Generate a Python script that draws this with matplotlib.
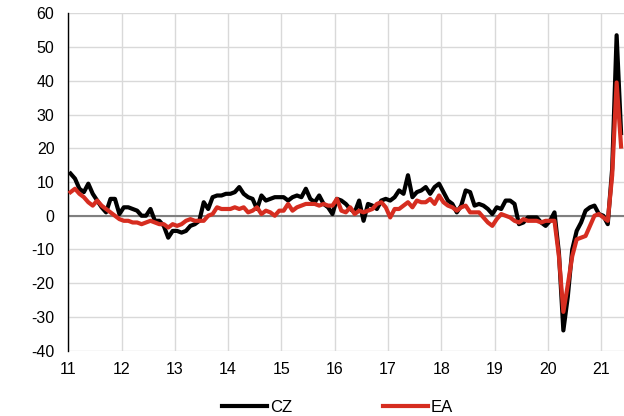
import matplotlib.pyplot as plt
import numpy as np

plt.rcParams['font.family'] = ['Liberation Sans', 'DejaVu Sans']
plt.rcParams['axes.unicode_minus'] = False

# monthly y/y values, Jan 2011 - May 2021
cz = [12.5, 11, 8, 7, 9.5, 6.5, 4.5, 2.5, 1, 5, 5, 0.5,
      2.5, 2.5, 2, 1.5, 0, 0, 2, -1.5, -1.5, -3, -6.5, -4.5,
      -4.5, -5, -4.5, -3, -2.5, -1.5, 4, 2, 5.5, 6, 6, 6.5,
      6.5, 7, 8.5, 6.5, 5.5, 5, 2, 6, 4.5, 5, 5.5, 5.5,
      5.5, 4.5, 5.5, 6, 5.5, 8, 5, 4, 6, 3.5, 2.5, 0.5,
      5, 4.5, 3.5, 2, 1, 4.5, -1.5, 3.5, 3, 2, 4.5, 5,
      4.5, 5.5, 7.5, 6.5, 12, 5.5, 7, 7.5, 8.5, 6.5, 8.5, 9.5,
      7, 4.5, 3.5, 1, 3, 7.5, 7, 3, 3.5, 3, 2, 0.5,
      2.5, 2, 4.5, 4.5, 3.5, -2.5, -2, -0.5, -0.5, -0.5, -2, -3,
      -1.5, 1, -11, -34, -24, -10, -4.5, -2, 1.5, 2.5, 3, 0.5,
      0, -2.5, 14, 53.5, 24.5]
ea = [7, 8, 6.5, 5.5, 4, 3, 4.5, 3, 2, 1, 0, -1,
      -1.5, -1.5, -2, -2, -2.5, -2, -1.5, -2, -2.5, -2.5, -3.5, -2.5,
      -3, -2.5, -1.5, -1, -1.5, -1.5, -1.5, 0, 0.5, 2.5, 2, 2,
      2, 2.5, 2, 2.5, 1, 1.5, 2.5, 0.5, 1.5, 1, 0, 1.5,
      1.5, 3.5, 1.5, 2.5, 3, 3.5, 3.5, 3.5, 3, 3.5, 3, 3,
      5, 1.5, 1, 2.5, 0.5, 1.5, 1, 1.5, 2, 3.5, 4, 2.5,
      -0.5, 2, 2, 3, 4, 2.5, 4.5, 4, 4, 5, 3.5, 6,
      4, 3, 2.5, 1.5, 2.5, 3, 1, 1, 1, -0.5, -2, -3,
      -1, 0.5, 0, -0.5, -1.5, -2, -1, -1.5, -1.5, -1.5, -2, -1.5,
      -1.5, -1.5, -12, -28.5, -20.5, -12, -7, -6.5, -6, -3, 0, 0.5,
      -0.5, -1.5, 12, 39.5, 20.5]
years = list(range(11, 22))

x = 11 + (np.arange(len(cz)) + 0.5) / 12

fig = plt.figure(figsize=(6.24, 4.16), dpi=100)
ax = fig.add_axes([0.1095, 0.157, 0.8905, 0.811])

for v in range(-40, 61, 10):
    ax.axhline(v, color='#d9d9d9', lw=1, zorder=0)
for yr in years:
    ax.axvline(yr, color='#d9d9d9', lw=1, zorder=0)
ax.axhline(0, color='#808080', lw=1.5, zorder=1)

ax.plot(x, cz, color='black', lw=3.0, label='CZ', zorder=3)
ax.plot(x, ea, color='#d62d20', lw=3.0, label='EA', zorder=4)

ax.set_xlim(11, 21.43)
ax.set_ylim(-40, 60)
ax.set_xticks(years)
ax.set_xticklabels([str(y) for y in years])
ax.set_yticks(range(-40, 61, 10))
ax.tick_params(length=0, labelsize=11.5)
ax.tick_params(axis='y', pad=10)
ax.tick_params(axis='x', pad=8)
for s in ['top', 'right', 'bottom']:
    ax.spines[s].set_visible(False)
ax.spines['left'].set_color('black')
ax.spines['left'].set_linewidth(1)

fig.legend(loc='center', bbox_to_anchor=(0.541, 0.02), ncol=2,
           frameon=False, fontsize=12, handlelength=2.7,
           handletextpad=0.2, columnspacing=5.4)

fig.savefig('out.png', dpi=100)
